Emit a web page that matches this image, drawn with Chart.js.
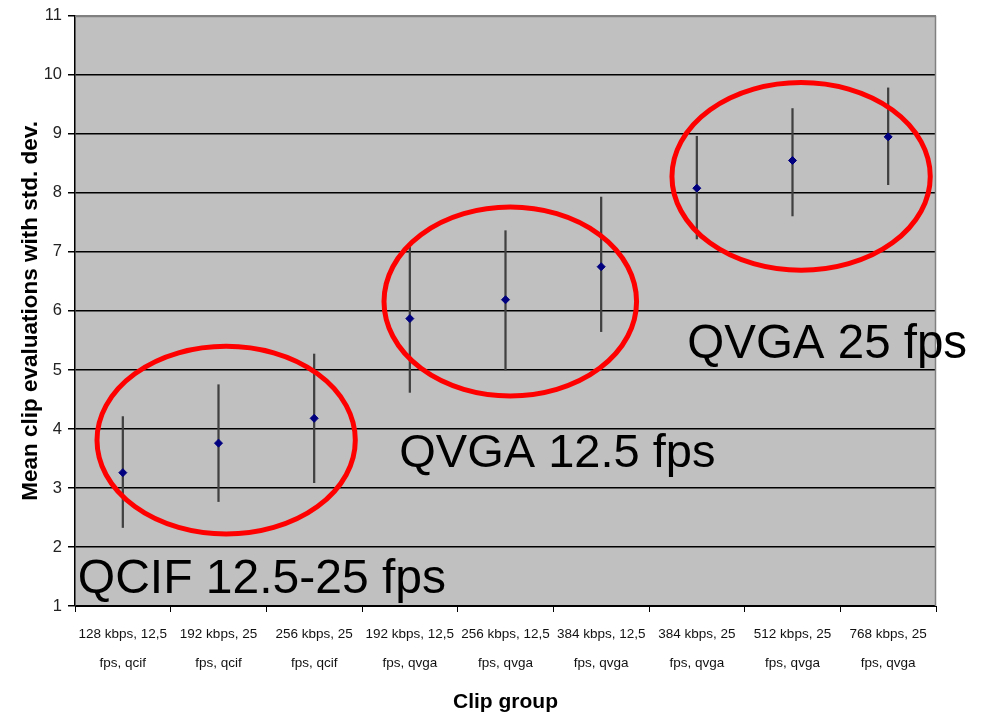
<!DOCTYPE html>
<html>
<head>
<meta charset="utf-8">
<title>Mean clip evaluations per clip group</title>
<script src="https://cdn.jsdelivr.net/npm/chart.js@4/dist/chart.umd.min.js"></script>
<style>
  html, body { margin: 0; padding: 0; background: #ffffff; }
  #wrap { width: 988px; height: 718px; position: relative; }
</style>
</head>
<body>
<div id="wrap"><canvas id="chart" width="988" height="718"></canvas></div>
<script>
// Clip groups (bitrate, frame rate, resolution)
const clipGroups = [
  ['128 kbps, 12,5', 'fps, qcif'],
  ['192 kbps, 25', 'fps, qcif'],
  ['256 kbps, 25', 'fps, qcif'],
  ['192 kbps, 12,5', 'fps, qvga'],
  ['256 kbps, 12,5', 'fps, qvga'],
  ['384 kbps, 12,5', 'fps, qvga'],
  ['384 kbps, 25', 'fps, qvga'],
  ['512 kbps, 25', 'fps, qvga'],
  ['768 kbps, 25', 'fps, qvga']
];

// Mean evaluation per group, and mean - / + one standard deviation
const meanScores  = [3.26, 3.76, 4.18, 5.87, 6.19, 6.75, 8.08, 8.55, 8.95];
const lowerBounds = [2.33, 2.77, 3.09, 4.62, 5.00, 5.65, 7.22, 7.61, 8.14];
const upperBounds = [4.21, 4.75, 5.27, 7.08, 7.36, 7.93, 8.96, 9.43, 9.78];

// Value axis ticks
const yTickValues = [1, 2, 3, 4, 5, 6, 7, 8, 9, 10, 11];

// Group call-outs (ellipse centre/radii in category index / score units)
const groupNotes = [
  { label: 'QCIF 12.5-25 fps', cx: 1.08, cy: 3.81, rx: 1.35, ry: 1.59, tx: -0.47, ty: 1.22, size: 48 },
  { label: 'QVGA 12.5 fps',    cx: 4.05, cy: 6.16, rx: 1.32, ry: 1.60, tx: 2.89,  ty: 3.36, size: 47 },
  { label: 'QVGA 25 fps',      cx: 7.09, cy: 8.28, rx: 1.35, ry: 1.59, tx: 5.90,  ty: 5.21, size: 47.5 }
];

const errorRanges = lowerBounds.map((lo, i) => [lo, upperBounds[i]]);

const TICK_FONT = "'Liberation Sans', Arial, sans-serif";
const TEXT_FONT = "'Liberation Sans', Arial, sans-serif";

// Grey plot area with a grey frame on the top and right edges
const plotFrame = {
  id: 'plotFrame',
  beforeDraw(chart) {
    const { ctx, chartArea: a } = chart;
    ctx.save();
    ctx.fillStyle = '#c0c0c0';
    ctx.fillRect(a.left, a.top, a.right - a.left, a.bottom - a.top);
    ctx.restore();
  },
  beforeDatasetsDraw(chart) {
    const { ctx, chartArea: a } = chart;
    ctx.save();
    ctx.strokeStyle = '#808080';
    ctx.lineWidth = 1.5;
    ctx.beginPath();
    ctx.moveTo(a.left, a.top + 0.5);
    ctx.lineTo(a.right - 0.5, a.top + 0.5);
    ctx.lineTo(a.right - 0.5, a.bottom);
    ctx.stroke();
    ctx.restore();
  }
};

// Red ellipses around each resolution group and their captions
const groupCallouts = {
  id: 'groupCallouts',
  afterDatasetsDraw(chart) {
    const { ctx } = chart;
    const xs = chart.scales.x, ys = chart.scales.y;
    ctx.save();
    groupNotes.forEach(n => {
      const cx = xs.getPixelForValue(n.cx);
      const cy = ys.getPixelForValue(n.cy);
      const rx = Math.abs(xs.getPixelForValue(n.cx + n.rx) - cx);
      const ry = Math.abs(ys.getPixelForValue(n.cy + n.ry) - cy);
      ctx.beginPath();
      ctx.ellipse(cx, cy, rx, ry, 0, 0, Math.PI * 2);
      ctx.strokeStyle = '#ff0000';
      ctx.lineWidth = 5;
      ctx.stroke();
    });
    groupNotes.forEach(n => {
      ctx.font = n.size + 'px ' + TEXT_FONT;
      ctx.fillStyle = '#000000';
      ctx.textAlign = 'left';
      ctx.textBaseline = 'alphabetic';
      ctx.fillText(n.label, xs.getPixelForValue(n.tx), ys.getPixelForValue(n.ty));
    });
    ctx.restore();
  }
};

new Chart(document.getElementById('chart'), {
  data: {
    labels: clipGroups,
    datasets: [
      {
        type: 'line',
        label: 'Mean',
        data: meanScores,
        showLine: false,
        pointStyle: 'rectRot',
        pointRadius: 4,
        pointBackgroundColor: '#000080',
        pointBorderColor: '#000080',
        pointBorderWidth: 1,
        order: 0
      },
      {
        type: 'bar',
        label: 'Std. dev.',
        data: errorRanges,
        backgroundColor: '#404040',
        borderWidth: 0,
        barThickness: 1.6,
        order: 1
      }
    ]
  },
  options: {
    responsive: false,
    animation: false,
    devicePixelRatio: 1,
    layout: { padding: { top: 15, right: 52, bottom: 0, left: 0 } },
    plugins: {
      legend: { display: false },
      tooltip: { enabled: false }
    },
    scales: {
      x: {
        type: 'category',
        offset: true,
        grid: {
          offset: true,
          drawOnChartArea: false,
          drawTicks: true,
          tickLength: 6,
          tickColor: '#000000',
          color: '#000000'
        },
        border: { color: '#000000', width: 1 },
        ticks: {
          autoSkip: false,
          maxRotation: 0,
          minRotation: 0,
          padding: 8,
          color: '#111111',
          font: { family: TICK_FONT, size: 13.5, lineHeight: '29px' }
        },
        title: {
          display: true,
          text: 'Clip group',
          color: '#000000',
          font: { family: TEXT_FONT, size: 21, weight: 'bold', lineHeight: 1.2 },
          padding: { top: 0, bottom: 3 }
        },
        afterFit(scale) { scale.height = 112; }
      },
      y: {
        min: 1,
        max: 11,
        afterBuildTicks(scale) { scale.ticks = yTickValues.map(v => ({ value: v })); },
        grid: {
          color: ctx => (ctx.tick && ctx.tick.value === 11 ? '#808080' : '#000000'),
          lineWidth: 1.5,
          drawTicks: true,
          tickLength: 7,
          tickColor: '#000000'
        },
        border: { color: '#000000', width: 1.5 },
        ticks: {
          padding: 6,
          color: '#222222',
          font: { family: TICK_FONT, size: 16.5 }
        },
        title: {
          display: true,
          text: 'Mean clip evaluations with std. dev.',
          color: '#000000',
          font: { family: TEXT_FONT, size: 22.5, weight: 'bold', lineHeight: 1.2 },
          padding: { top: 17, bottom: 0 }
        },
        afterFit(scale) { scale.width = 75; }
      }
    }
  },
  plugins: [plotFrame, groupCallouts]
});
</script>
</body>
</html>
